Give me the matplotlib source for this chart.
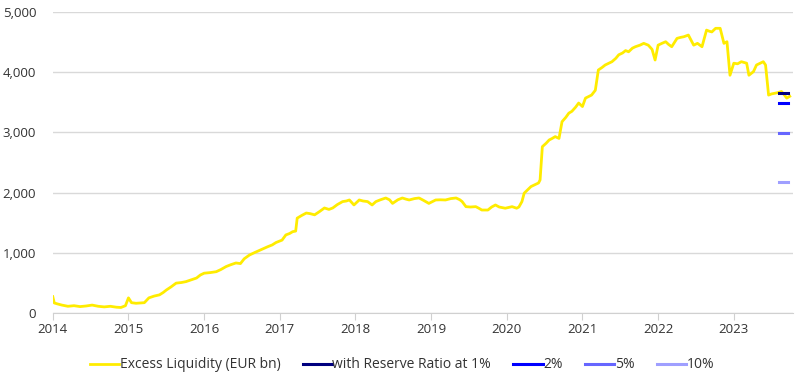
import matplotlib.pyplot as plt
from matplotlib.ticker import FuncFormatter, MultipleLocator

plt.rcParams['font.family'] = ['Open Sans', 'DejaVu Sans']

# excess liquidity, EUR bn (decimal years)
dates = [2014.00, 2014.02, 2014.06, 2014.12, 2014.20, 2014.28, 2014.36, 2014.44, 2014.52,
         2014.60, 2014.68, 2014.76, 2014.84, 2014.90, 2014.96, 2015.00, 2015.04, 2015.10,
         2015.16, 2015.21, 2015.27, 2015.34, 2015.41, 2015.46, 2015.50, 2015.56, 2015.63,
         2015.70, 2015.76, 2015.83, 2015.90, 2015.95, 2016.00, 2016.08, 2016.16, 2016.22,
         2016.29, 2016.35, 2016.42, 2016.48, 2016.53, 2016.60, 2016.68, 2016.77, 2016.84,
         2016.90, 2016.95, 2017.03, 2017.08, 2017.13, 2017.17, 2017.21, 2017.23, 2017.29,
         2017.35, 2017.40, 2017.46, 2017.52, 2017.59, 2017.65, 2017.70, 2017.76, 2017.83,
         2017.88, 2017.92, 2017.98, 2018.05, 2018.10, 2018.16, 2018.22, 2018.27, 2018.33,
         2018.40, 2018.45, 2018.49, 2018.56, 2018.62, 2018.67, 2018.71, 2018.78, 2018.84,
         2018.90, 2018.97, 2019.06, 2019.12, 2019.19, 2019.26, 2019.33, 2019.38, 2019.41,
         2019.46, 2019.52, 2019.59, 2019.63, 2019.67, 2019.75, 2019.80, 2019.85, 2019.90,
         2019.98, 2020.07, 2020.13, 2020.16, 2020.20, 2020.23, 2020.28, 2020.32, 2020.37,
         2020.42, 2020.44, 2020.47, 2020.52, 2020.56, 2020.60, 2020.64, 2020.69, 2020.73,
         2020.78, 2020.82, 2020.86, 2020.91, 2020.95, 2021.00, 2021.04, 2021.12, 2021.17,
         2021.21, 2021.26, 2021.30, 2021.35, 2021.39, 2021.44, 2021.48, 2021.53, 2021.57,
         2021.61, 2021.66, 2021.70, 2021.76, 2021.81, 2021.87, 2021.92, 2021.96, 2022.00,
         2022.05, 2022.10, 2022.14, 2022.18, 2022.25, 2022.30, 2022.34, 2022.40, 2022.44,
         2022.47, 2022.52, 2022.58, 2022.64, 2022.68, 2022.71, 2022.76, 2022.82, 2022.87,
         2022.91, 2022.95, 2023.00, 2023.05, 2023.10, 2023.14, 2023.17, 2023.20, 2023.26,
         2023.30, 2023.35, 2023.39, 2023.42, 2023.46, 2023.50, 2023.54, 2023.58, 2023.63,
         2023.67, 2023.70, 2023.74]
liquidity = [270, 165, 150, 130, 110, 120, 105, 115, 130, 110, 100, 110, 95, 90, 120, 250,
             170, 160, 165, 170, 250, 280, 300, 340, 380, 430, 495, 505, 520, 550, 580, 630,
             660, 670, 685, 720, 770, 800, 830, 820, 900, 963, 1010, 1060, 1100, 1130, 1170,
             1210, 1296, 1320, 1350, 1360, 1575, 1620, 1660, 1650, 1630, 1680, 1744, 1720,
             1744, 1800, 1850, 1860, 1877, 1794, 1877, 1860, 1850, 1794, 1850, 1880, 1910,
             1880, 1820, 1880, 1910, 1890, 1877, 1900, 1910, 1870, 1820, 1877, 1880, 1877,
             1900, 1910, 1880, 1850, 1766, 1760, 1766, 1740, 1710, 1710, 1760, 1794, 1760,
             1740, 1766, 1740, 1760, 1850, 1990, 2050, 2100, 2130, 2160, 2210, 2763, 2820,
             2874, 2900, 2930, 2900, 3178, 3250, 3320, 3350, 3420, 3488, 3430, 3570, 3620,
             3700, 4037, 4080, 4120, 4150, 4175, 4230, 4290, 4320, 4360, 4340, 4400, 4424,
             4450, 4480, 4450, 4380, 4203, 4450, 4480, 4507, 4460, 4424, 4563, 4580, 4590,
             4618, 4520, 4450, 4480, 4424, 4700, 4680, 4670, 4730, 4730, 4480, 4507, 3950,
             4150, 4140, 4175, 4160, 4150, 3950, 4010, 4120, 4150, 4175, 4120, 3620, 3640,
             3650, 3660, 3680, 3620, 3570, 3600]

# excess liquidity under alternative reserve ratios (end of sample)
ratio_labels = ['with Reserve Ratio at 1%', '2%', '5%', '10%']
ratio_values = [3654, 3488, 2990, 2176]
ratio_colors = ['#00007f', '#0000ff', '#6666ff', '#9f9fff']
ratio_span = [2023.60, 2023.72]

fig, ax = plt.subplots(figsize=(8, 3.77), dpi=100)
fig.subplots_adjust(left=0.066, right=0.991, top=0.968, bottom=0.170)

ax.plot(dates, liquidity, color='#ffec00', lw=2.0, label='Excess Liquidity (EUR bn)', zorder=3)
for lab, val, col in zip(ratio_labels, ratio_values, ratio_colors):
    ax.plot(ratio_span, [val, val], color=col, lw=2.2, label=lab, zorder=4)

ax.set_xlim(2014, 2023.78)
ax.set_ylim(0, 5000)
ax.xaxis.set_major_locator(MultipleLocator(1))
ax.xaxis.set_major_formatter(FuncFormatter(lambda v, p: f"{int(round(v))}"))
ax.yaxis.set_major_locator(MultipleLocator(1000))
ax.yaxis.set_major_formatter(FuncFormatter(lambda v, p: f"{int(v):,}"))
ax.grid(axis='y', color='#d9d9d9', lw=1)
ax.set_axisbelow(True)
for s in ['top', 'right', 'left']:
    ax.spines[s].set_visible(False)
ax.spines['bottom'].set_color('#d0d0d0')
ax.tick_params(axis='y', length=0, labelsize=9.5, labelcolor='#333333', pad=12)
ax.tick_params(axis='x', length=5, color='#d0d0d0', labelsize=9.5, labelcolor='#333333', pad=2)

ax.legend(loc='center', bbox_to_anchor=(402 / 800, 1 - 365 / 377), bbox_transform=fig.transFigure,
          ncol=5, frameon=False, fontsize=10, handlelength=2.1, handletextpad=0.05,
          columnspacing=1.6, labelcolor='#333333')

fig.savefig('out.png')
